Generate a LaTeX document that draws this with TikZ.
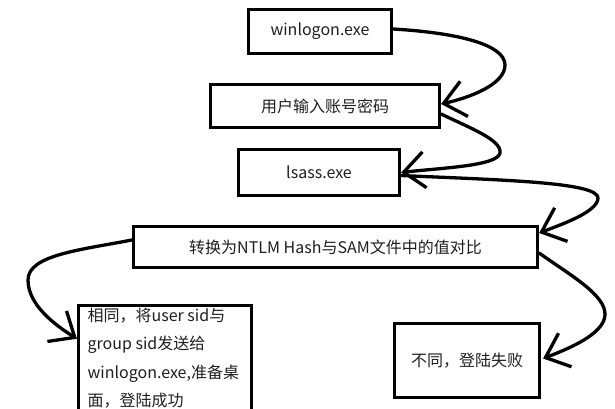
\documentclass[tikz,border=0pt]{standalone}
\usepackage{fontspec}
\setmainfont{Noto Sans CJK SC}
\usetikzlibrary{arrows.meta}
\begin{document}
\begin{tikzpicture}[x=1pt,y=-1pt,
  box/.style={draw=black,line width=3.2pt,inner sep=0pt,outer sep=1.6pt,
    font=\fontsize{16pt}{19pt}\selectfont,text=black!88},
  conn/.style={draw=black,line width=3.3pt,line cap=round,
    -{Straight Barb[length=21pt,width=36pt,line width=3.3pt]}}]
\useasboundingbox (0,0) rectangle (615,408);
\clip (0,0) rectangle (615,408);
\fill[white] (0,0) rectangle (615,408);
% boxes
\node[box,minimum width=143pt,minimum height=44pt] (b1) at (320,31.5) {winlogon.exe};
\node[box,minimum width=229pt,minimum height=43pt] (b2) at (325,106) {用户输入账号密码};
\node[box,minimum width=161pt,minimum height=46pt] (b3) at (319,172.5) {lsass.exe};
\node[box,minimum width=404pt,minimum height=41pt] (b4) at (335.5,247) {转换为NTLM Hash与SAM文件中的值对比};
\node[box,minimum width=173pt,minimum height=114.5pt] (b5) at (165,362.75) {};
\node[box,draw=none,anchor=north west,align=left,
  font=\fontsize{16pt}{28.5pt}\selectfont] (t5) at (86,306)
  {相同，将user sid与\\group sid发送给\\winlogon.exe,准备桌\\面，登陆成功};
\node[box,minimum width=145pt,minimum height=74pt] (b6) at (467,360.5) {不同，登陆失败};
% connectors
\draw[conn] ([yshift=2.5pt]b1.east) .. controls (460,33) and (505,45) .. (505,65)
  .. controls (505,85) and (468,98) .. ([yshift=2pt]b2.east);
\draw[conn] ([yshift=-8pt]b2.east) .. controls (470,128) and (502,140) .. (500,153)
  .. controls (498,166) and (440,168) .. (b3.east);
\draw[conn] ([yshift=-3pt]b3.east) .. controls (500,180) and (598,182) .. (598,198)
  .. controls (598,212) and (560,225) .. ([yshift=14pt]b4.east);
\draw[conn] ([yshift=-6pt]b4.east) .. controls (570,275) and (606,295) .. (605,315)
  .. controls (604,335) and (565,350) .. ([xshift=2pt,yshift=2pt]b6.east);
\draw[conn] ([yshift=7pt]b4.west) .. controls (80,250) and (28,255) .. (28,280)
  .. controls (28,305) and (55,325) .. ([yshift=24pt]b5.west);
\end{tikzpicture}
\end{document}
